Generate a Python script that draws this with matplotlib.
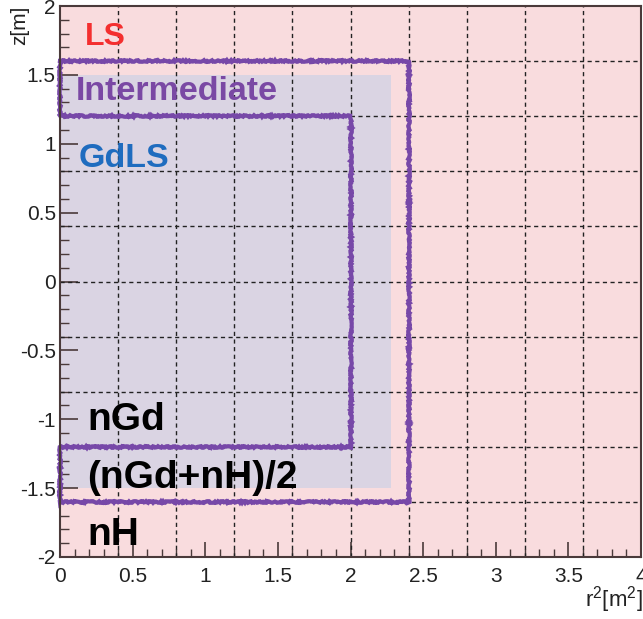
import matplotlib
matplotlib.use("Agg")
import matplotlib.pyplot as plt
from matplotlib.ticker import MultipleLocator

plt.rcParams['font.family'] = ['Liberation Sans', 'DejaVu Sans']
plt.rcParams['mathtext.fontset'] = 'custom'
plt.rcParams['mathtext.rm'] = 'Liberation Sans'
plt.rcParams['mathtext.it'] = 'Liberation Sans'

# detector regions in (r^2 [m^2], z [m])
ls_r2_max = 4.0
ls_z_half = 2.0
gdls_r2_max = 2.28
gdls_z_half = 1.5
ngd_cut_r2 = 2.0
ngd_cut_z = 1.2
nh_cut_r2 = 2.4
nh_cut_z = 1.6

# histogram bin edges (drawn as the dotted grid)
bin_edges_r2 = [0.4, 0.8, 1.2, 1.6, 2.0, 2.4, 2.8, 3.2, 3.6]
bin_edges_z = [-2.0, -1.6, -1.2, -0.8, -0.4, 0.0, 0.4, 0.8, 1.2, 1.6]

# labels: (text, r2, z, colour, size)
labels = [
    ("LS", 0.17, 1.715, "#f42f2f", 23),
    ("Intermediate", 0.11, 1.315, "#7a48a4", 24.5),
    ("GdLS", 0.125, 0.83, "#1f6cbf", 24.5),
    ("nGd", 0.19, -1.08, "black", 28),
    ("(nGd+nH)/2", 0.19, -1.50, "black", 28),
    ("nH", 0.19, -1.915, "black", 28),
]

frame_col = "#4a3a3a"
purple = "#7748a8"

fig = plt.figure(figsize=(6.43, 6.19), dpi=100)
ax = fig.add_axes([60 / 643, 62 / 619, 581 / 643, 551 / 619])

ax.set_xlim(0, ls_r2_max)
ax.set_ylim(-ls_z_half, ls_z_half)
ax.set_facecolor("#f9dcde")

# GdLS vessel
ax.fill_between([0, gdls_r2_max], -gdls_z_half, gdls_z_half,
                color="#dad4e3", linewidth=0, zorder=1)

# dotted bin grid
for xe in bin_edges_r2:
    ax.axvline(xe, color="#222222", lw=1.0, ls=(0, (3, 2.5)), zorder=2)
for ze in bin_edges_z:
    ax.axhline(ze, color="#222222", lw=1.0, ls=(0, (3, 2.5)), zorder=2)

# contour of intermediate region
px = [0, nh_cut_r2, nh_cut_r2, 0, 0, ngd_cut_r2, ngd_cut_r2, 0, 0]
pz = [nh_cut_z, nh_cut_z, -nh_cut_z, -nh_cut_z, -ngd_cut_z, -ngd_cut_z,
      ngd_cut_z, ngd_cut_z, nh_cut_z]
line, = ax.plot(px, pz, color=purple, lw=3.0, zorder=4, clip_on=False,
                solid_joinstyle="miter")
line.set_sketch_params(scale=0.8, length=1.5, randomness=20)

for txt, x, z, col, size in labels:
    ax.text(x, z, txt, color=col, fontsize=size, fontweight="bold",
            ha="left", va="baseline", zorder=5)

# ROOT-like axes
for sp in ax.spines.values():
    sp.set_color(frame_col)
    sp.set_linewidth(1.5)
    sp.set_zorder(6)

ax.xaxis.set_major_locator(MultipleLocator(0.5))
ax.xaxis.set_minor_locator(MultipleLocator(0.1))
ax.yaxis.set_major_locator(MultipleLocator(0.5))
ax.yaxis.set_minor_locator(MultipleLocator(0.1))
ax.tick_params(axis="both", which="both", direction="in", colors=frame_col,
               top=False, right=False, labelcolor="#222222", labelsize=15)
ax.tick_params(axis="y", which="major", length=13, width=1.2, pad=3)
ax.tick_params(axis="y", which="minor", length=6.5, width=1.0)
ax.tick_params(axis="x", which="major", length=11, width=1.2, pad=7)
ax.tick_params(axis="x", which="minor", length=5.5, width=1.0)

def fmt(v, pos):
    return f"{v:g}"
ax.xaxis.set_major_formatter(fmt)
ax.yaxis.set_major_formatter(fmt)

fig.text(20 / 643, 1 - 6 / 619, "z[m]", rotation=90, ha="center", va="top",
         fontsize=15, color="#222222")
fig.text(0.999, 1 - 584 / 619, r"r$^{2}$[m$^{2}$]", ha="right", va="top",
         fontsize=16, color="#222222")

fig.savefig("out.png", dpi=100)
